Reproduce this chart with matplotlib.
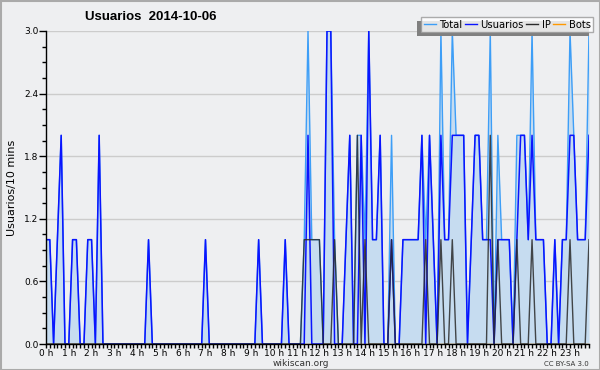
import numpy as np
import matplotlib.pyplot as plt
from matplotlib.patches import Rectangle
from matplotlib.lines import Line2D
from matplotlib.ticker import MultipleLocator, FixedLocator

title = 'Usuarios  2014-10-06'
ylabel = 'Usuarios/10 mins'
hour_labels = ['%d h' % h for h in range(24)]

# one value per 10 minutes, 144 points
usuarios = [1, 1, 0, 1, 2, 0, 0, 1, 1, 0, 0, 1,
            1, 0, 2, 0, 0, 0, 0, 0, 0, 0, 0, 0,
            0, 0, 0, 1, 0, 0, 0, 0, 0, 0, 0, 0,
            0, 0, 0, 0, 0, 0, 1, 0, 0, 0, 0, 0,
            0, 0, 0, 0, 0, 0, 0, 0, 1, 0, 0, 0,
            0, 0, 0, 1, 0, 0, 0, 0, 0, 2, 0, 0,
            0, 0, 3, 3, 0, 0, 0, 1, 2, 0, 0, 2,
            0, 3, 1, 1, 2, 0, 0, 1, 0, 0, 1, 1,
            1, 1, 1, 2, 0, 2, 1, 0, 2, 1, 1, 2,
            2, 2, 2, 0, 1, 2, 2, 1, 1, 1, 0, 1,
            1, 1, 1, 0, 1, 2, 2, 1, 2, 1, 1, 1,
            0, 0, 1, 0, 1, 1, 2, 2, 1, 1, 1, 2]

ip = [0, 0, 0, 0, 0, 0, 0, 0, 0, 0, 0, 0,
      0, 0, 0, 0, 0, 0, 0, 0, 0, 0, 0, 0,
      0, 0, 0, 0, 0, 0, 0, 0, 0, 0, 0, 0,
      0, 0, 0, 0, 0, 0, 0, 0, 0, 0, 0, 0,
      0, 0, 0, 0, 0, 0, 0, 0, 0, 0, 0, 0,
      0, 0, 0, 0, 0, 0, 0, 0, 1, 1, 1, 1,
      1, 0, 0, 0, 1, 0, 0, 0, 0, 0, 2, 0,
      1, 0, 0, 0, 0, 0, 0, 1, 0, 0, 0, 0,
      0, 0, 0, 0, 1, 0, 0, 0, 1, 0, 0, 1,
      0, 0, 0, 0, 0, 0, 0, 0, 0, 2, 0, 1,
      0, 0, 0, 0, 1, 0, 0, 0, 1, 0, 0, 0,
      0, 0, 0, 0, 0, 0, 1, 0, 0, 0, 0, 1]

bots = [0] * 144

total = [1, 1, 0, 1, 2, 0, 0, 1, 1, 0, 0, 1,
         1, 0, 2, 0, 0, 0, 0, 0, 0, 0, 0, 0,
         0, 0, 0, 1, 0, 0, 0, 0, 0, 0, 0, 0,
         0, 0, 0, 0, 0, 0, 1, 0, 0, 0, 0, 0,
         0, 0, 0, 0, 0, 0, 0, 0, 1, 0, 0, 0,
         0, 0, 0, 1, 0, 0, 0, 0, 1, 3, 1, 1,
         1, 0, 3, 3, 1, 0, 0, 1, 2, 0, 2, 2,
         1, 3, 1, 1, 2, 0, 0, 2, 0, 0, 1, 1,
         1, 1, 1, 2, 1, 2, 1, 0, 3, 1, 1, 3,
         2, 2, 2, 0, 1, 2, 2, 1, 1, 3, 0, 2,
         1, 1, 1, 0, 2, 2, 2, 1, 3, 1, 1, 1,
         0, 0, 1, 0, 1, 1, 3, 2, 1, 1, 1, 3]

W, H = 600, 370
bg = '#eeeff1'
fig = plt.figure(figsize=(W/100, H/100), dpi=100, facecolor=bg)
ax = fig.add_axes([46/W, 1-344/H, 543/W, 313/H], facecolor=bg)

x = np.arange(len(total))
ax.fill_between(x, total, color='#c6dcf0', lw=0, zorder=1)
ax.plot(x, bots, color='#ff9900', lw=1, zorder=1.5)
ax.plot(x, total, color='#3d9ef7', lw=1, zorder=2)
ax.plot(x, usuarios, color='#0a14ff', lw=1.1, zorder=2.2)
ax.plot(x, ip, color='#2a2a2a', lw=1, alpha=0.85, zorder=2.4)

ax.set_xlim(0, len(total) - 1)
ax.set_ylim(0, 3)
ax.set_yticks(np.arange(0, 3.01, 0.6))
ax.set_yticklabels(['%.1f' % v for v in np.arange(0, 3.01, 0.6)])
ax.yaxis.set_minor_locator(MultipleLocator(0.15))
ax.xaxis.set_major_locator(FixedLocator(np.arange(0, 144, 6)))
ax.xaxis.set_minor_locator(FixedLocator(np.arange(0, 144, 1)))
ax.set_xticklabels(hour_labels)
ax.tick_params(axis='y', which='major', direction='out', length=5,
               width=1, labelsize=6.5, pad=0.5)
ax.tick_params(axis='y', which='minor', direction='out', length=3, width=1)
ax.tick_params(axis='x', which='both', direction='out', length=3, width=1,
               labelsize=6.5, pad=0.5)
ax.grid(axis='y', which='major', color='#cccccc', lw=1, zorder=0)
ax.set_axisbelow(True)
for s in ('top', 'right'):
    ax.spines[s].set_visible(False)
for s in ('left', 'bottom'):
    ax.spines[s].set_linewidth(1)

fig.text(12/W, 1-188/H, ylabel, rotation=90, ha='center', va='center', fontsize=8)
fig.text(151/W, 1-17/H, title, ha='center', va='center', fontsize=9.5,
         fontweight='bold', family='Liberation Sans')
fig.text(301/W, 1-363/H, 'wikiscan.org', ha='center', va='center', fontsize=6.5,
         color='#333333')
fig.text(589/W, 1-364/H, 'CC BY-SA 3.0', ha='right', va='center', fontsize=5,
         color='#333333')

handles = [Line2D([], [], color='#3d9ef7', lw=1),
           Line2D([], [], color='#0a14ff', lw=1),
           Line2D([], [], color='#2a2a2a', lw=1),
           Line2D([], [], color='#ff9900', lw=1)]
leg = fig.legend(handles, ['Total', 'Usuarios', 'IP', 'Bots'], ncol=4,
                 loc='upper right', bbox_to_anchor=(593/W, 1-17/H),
                 fontsize=7.2, frameon=True, fancybox=False, handlelength=1.2,
                 handletextpad=0.35, columnspacing=0.25, borderpad=0.25,
                 borderaxespad=0)
leg.get_frame().set_edgecolor('#999999')
leg.get_frame().set_facecolor('white')
leg.get_frame().set_linewidth(1)
leg.set_zorder(5)

# shadow offset to the left and down, behind the legend box
fig.canvas.draw()
bb = leg.get_frame().get_window_extent()
fig.patches.append(Rectangle(((bb.x0 - 4)/W, (bb.y0 - 4)/H), bb.width/W, bb.height/H,
                             transform=fig.transFigure, facecolor='#808080',
                             edgecolor='none', zorder=4))

fig.patches.append(Rectangle((0.5/W, 0.5/H), (W-1)/W, (H-1)/H, transform=fig.transFigure,
                             facecolor='none', edgecolor='#aaaaaa', lw=1.5, zorder=6))

fig.savefig('out.png', dpi=100, facecolor=bg)
